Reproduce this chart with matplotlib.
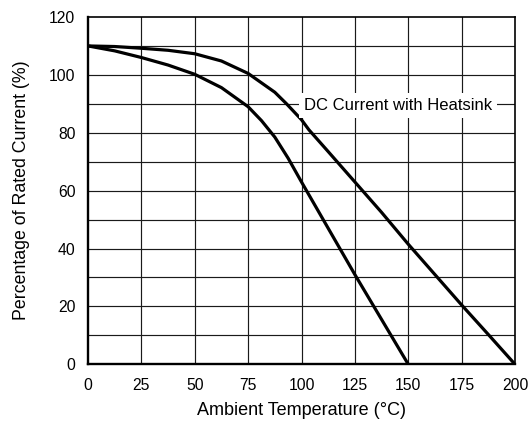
import matplotlib
matplotlib.use("Agg")
import matplotlib.pyplot as plt

plt.rcParams['font.family'] = ['Liberation Sans', 'DejaVu Sans']

# Data
temp_heatsink = [0, 12.5, 25, 37.5, 50, 62.5, 75, 87.5, 93, 100, 103.5, 112.5, 125, 137.5, 150, 162.5, 175, 187.5, 200]
curr_heatsink = [110, 109.8, 109.2, 108.5, 107.3, 104.8, 100.5, 94, 90, 84.5, 81, 73.5, 63, 52.5, 41.5, 31, 20.5, 10.3, 0]

temp_free = [0, 12.5, 25, 37.5, 50, 62.5, 75, 81.25, 87.5, 93.75, 100, 106.25, 112.5, 125, 137.5, 150]
curr_free = [110, 108.3, 106, 103.4, 100.2, 95.6, 89, 84.2, 78.5, 71.2, 63, 55, 47, 31, 15.5, 0]

x_ticks = [0, 25, 50, 75, 100, 125, 150, 175, 200]
y_ticks = [0, 20, 40, 60, 80, 100, 120]
y_grid = [10, 20, 30, 40, 50, 60, 70, 80, 90, 100, 110]

label_text = "DC Current with Heatsink"

fig = plt.figure(figsize=(5.28, 4.21), dpi=100)
ax = fig.add_axes([88/528, 1-364.3/421, (515-88)/528, (364.3-17)/421])

for xv in x_ticks[1:-1]:
    ax.axvline(xv, color='#1a1a1a', lw=0.85, zorder=1)
for yv in y_grid:
    ax.axhline(yv, color='#1a1a1a', lw=0.85, zorder=1)

ax.plot(temp_heatsink, curr_heatsink, color='black', lw=2.3, zorder=3, solid_capstyle='butt')
ax.plot(temp_free, curr_free, color='black', lw=2.3, zorder=3, solid_capstyle='butt')

ax.text(145, 89.5, label_text, ha='center', va='center', fontsize=12, zorder=4,
        bbox=dict(facecolor='white', edgecolor='none', boxstyle='square,pad=0.3'))

ax.set_xlim(0, 200)
ax.set_ylim(0, 120)
ax.set_xticks(x_ticks)
ax.set_yticks(y_ticks)
ax.tick_params(length=0, labelsize=11.3, colors='black')
ax.tick_params(axis='x', pad=10)
ax.tick_params(axis='y', pad=9)

ax.spines['left'].set_linewidth(1.7)
ax.spines['bottom'].set_linewidth(1.7)
ax.spines['top'].set_linewidth(1.2)
ax.spines['right'].set_linewidth(1.2)
for s in ax.spines.values():
    s.set_zorder(5)

ax.set_xlabel("Ambient Temperature (°C)", fontsize=13, labelpad=6.5)
ax.set_ylabel("Percentage of Rated Current (%)", fontsize=12.8, labelpad=14)

fig.savefig("out.png", dpi=100)
